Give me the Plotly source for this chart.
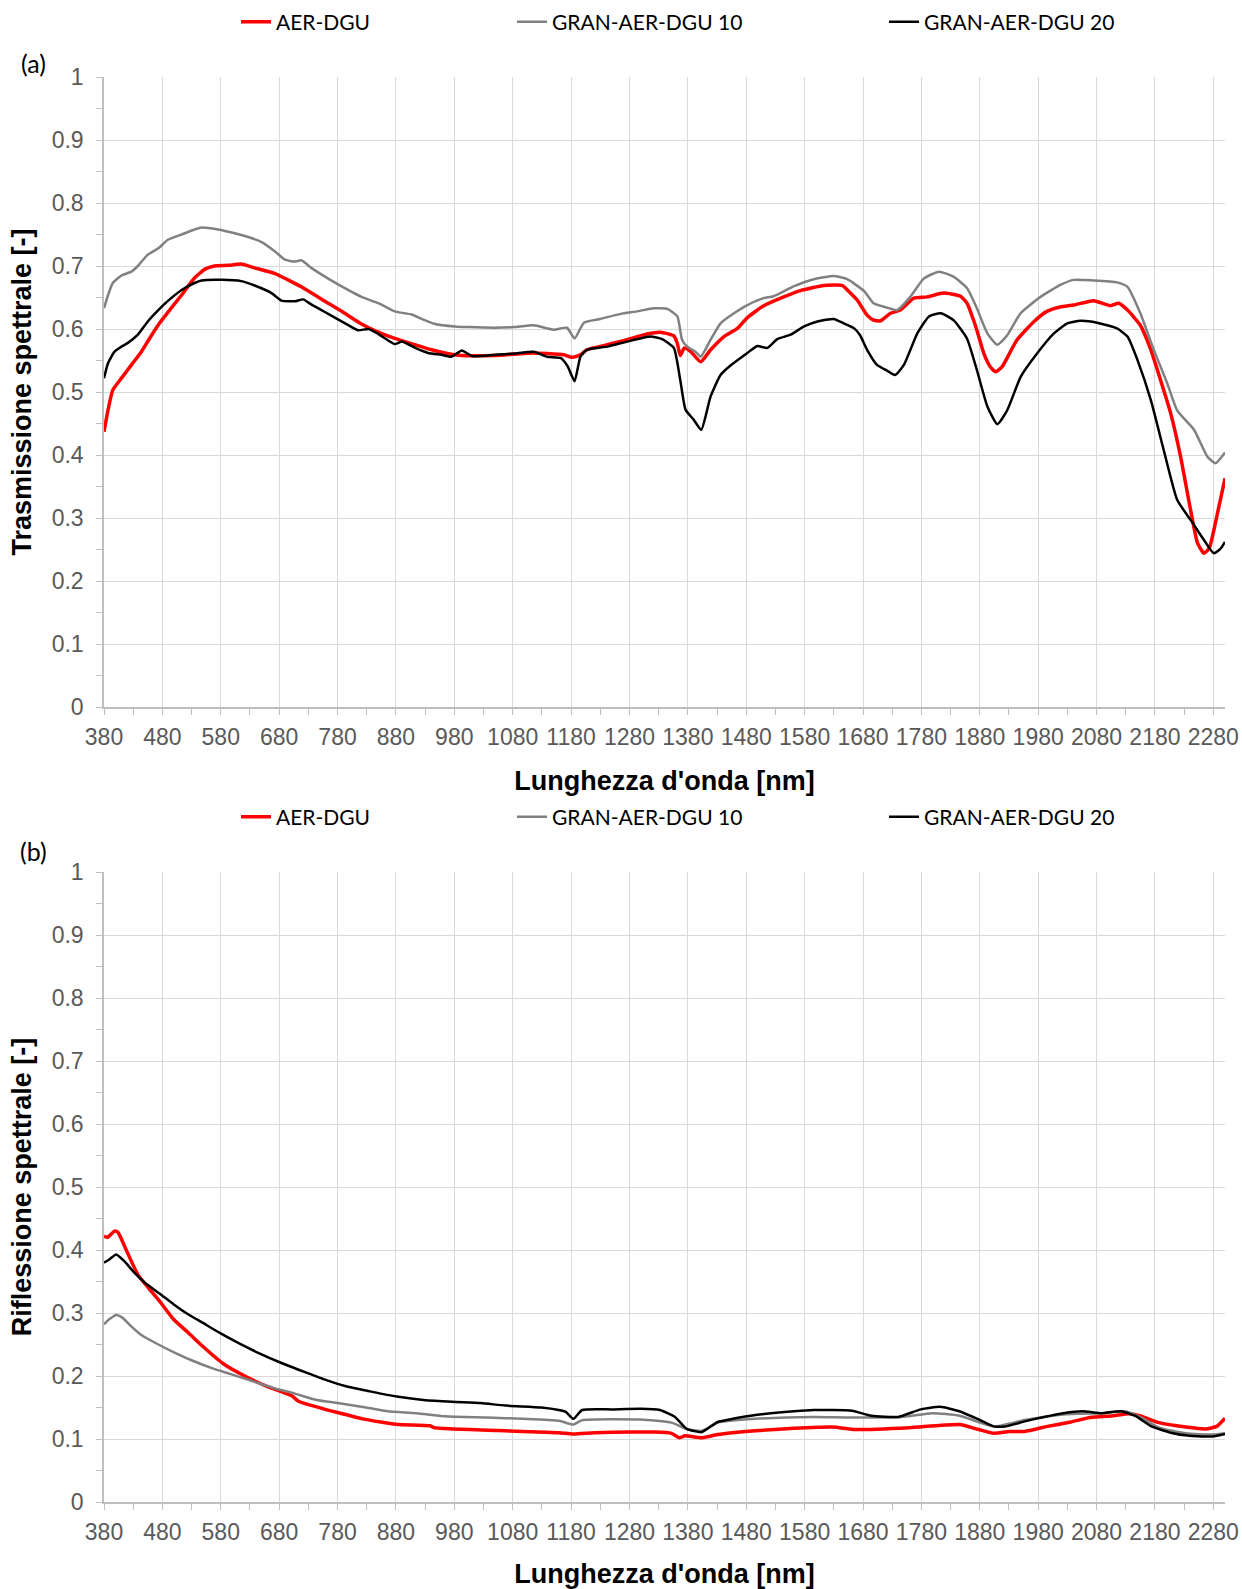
import plotly.graph_objects as go
from plotly.subplots import make_subplots

# ---------------- Panel (a): Trasmissione spettrale ----------------
wl_t_aer = [380, 387, 395, 410, 427, 444, 458, 475, 495, 513, 535, 553, 569, 593, 615, 638, 673, 695, 718, 753,
            787, 821, 855, 878, 913, 941, 964, 993, 1050, 1082, 1116, 1139, 1167, 1182, 1196, 1207, 1242, 1276,
            1310, 1333, 1356, 1362, 1367, 1374, 1385, 1402, 1419, 1442, 1465, 1482, 1510, 1539, 1573, 1613, 1645,
            1653, 1670, 1687, 1698, 1710, 1727, 1744, 1767, 1790, 1818, 1847, 1858, 1873, 1887, 1898, 1907, 1918,
            1944, 1973, 1995, 2018, 2041, 2075, 2104, 2118, 2133, 2155, 2173, 2195, 2207, 2224, 2241, 2253, 2264,
            2273, 2287, 2300]
t_aer = [0.437, 0.472, 0.503, 0.522, 0.543, 0.564, 0.585, 0.609, 0.633, 0.654, 0.681, 0.695, 0.700, 0.701, 0.703,
         0.697, 0.688, 0.678, 0.667, 0.647, 0.628, 0.608, 0.593, 0.585, 0.575, 0.567, 0.562, 0.558, 0.558, 0.560,
         0.562, 0.561, 0.559, 0.555, 0.559, 0.567, 0.575, 0.583, 0.592, 0.595, 0.589, 0.577, 0.558, 0.570, 0.564,
         0.548, 0.567, 0.588, 0.601, 0.618, 0.637, 0.649, 0.661, 0.669, 0.669, 0.662, 0.646, 0.622, 0.614, 0.613,
         0.625, 0.630, 0.649, 0.651, 0.657, 0.652, 0.641, 0.604, 0.561, 0.540, 0.532, 0.540, 0.583, 0.612, 0.628,
         0.635, 0.638, 0.645, 0.637, 0.641, 0.630, 0.606, 0.567, 0.503, 0.466, 0.397, 0.313, 0.260, 0.244, 0.252,
         0.307, 0.363]

wl_t_g10 = [380, 387, 395, 410, 427, 438, 455, 473, 490, 513, 547, 575, 604, 627, 650, 673, 690, 707, 718, 735,
            764, 798, 821, 850, 878, 907, 924, 947, 981, 1004, 1050, 1082, 1116, 1150, 1173, 1186, 1202, 1230, 1265,
            1293, 1322, 1345, 1362, 1370, 1379, 1393, 1402, 1419, 1436, 1459, 1482, 1510, 1527, 1562, 1596, 1630,
            1653, 1682, 1698, 1721, 1738, 1761, 1784, 1810, 1835, 1858, 1875, 1893, 1910, 1927, 1950, 1984, 2018,
            2041, 2075, 2115, 2133, 2155, 2178, 2201, 2218, 2247, 2270, 2284, 2300]
t_g10 = [0.633, 0.654, 0.673, 0.685, 0.691, 0.700, 0.718, 0.728, 0.742, 0.750, 0.761, 0.758, 0.752, 0.746, 0.738,
         0.723, 0.710, 0.707, 0.709, 0.697, 0.680, 0.662, 0.651, 0.641, 0.628, 0.623, 0.616, 0.608, 0.604, 0.603,
         0.602, 0.603, 0.606, 0.599, 0.602, 0.585, 0.610, 0.616, 0.624, 0.628, 0.633, 0.632, 0.620, 0.583, 0.572,
         0.564, 0.556, 0.583, 0.609, 0.625, 0.638, 0.649, 0.652, 0.668, 0.679, 0.684, 0.679, 0.660, 0.641, 0.634,
         0.630, 0.651, 0.680, 0.691, 0.683, 0.665, 0.633, 0.593, 0.575, 0.590, 0.625, 0.651, 0.670, 0.678, 0.677,
         0.674, 0.667, 0.625, 0.567, 0.514, 0.471, 0.440, 0.397, 0.387, 0.404]

wl_t_g20 = [380, 387, 398, 410, 421, 438, 455, 473, 490, 513, 535, 547, 581, 615, 638, 667, 684, 707, 721, 735,
            764, 793, 815, 833, 850, 878, 890, 913, 935, 958, 975, 993, 1010, 1050, 1082, 1116, 1139, 1162, 1174,
            1186, 1196, 1207, 1242, 1276, 1316, 1336, 1356, 1367, 1376, 1390, 1403, 1419, 1436, 1453, 1482, 1499,
            1516, 1533, 1556, 1579, 1602, 1630, 1647, 1665, 1675, 1687, 1704, 1721, 1735, 1750, 1773, 1793, 1813,
            1835, 1858, 1875, 1893, 1910, 1927, 1950, 1978, 2007, 2030, 2053, 2081, 2115, 2133, 2150, 2173, 2195,
            2218, 2241, 2264, 2281, 2293, 2300]
t_g20 = [0.522, 0.546, 0.564, 0.572, 0.578, 0.591, 0.612, 0.630, 0.645, 0.662, 0.673, 0.677, 0.678, 0.676, 0.669,
         0.657, 0.645, 0.644, 0.647, 0.639, 0.624, 0.609, 0.598, 0.600, 0.592, 0.576, 0.580, 0.570, 0.562, 0.559,
         0.556, 0.566, 0.557, 0.559, 0.561, 0.564, 0.556, 0.554, 0.541, 0.517, 0.556, 0.567, 0.572, 0.580, 0.588,
         0.584, 0.570, 0.519, 0.472, 0.456, 0.440, 0.493, 0.527, 0.542, 0.562, 0.573, 0.570, 0.584, 0.591, 0.604,
         0.612, 0.616, 0.609, 0.601, 0.590, 0.567, 0.543, 0.534, 0.527, 0.543, 0.593, 0.620, 0.625, 0.614, 0.585,
         0.535, 0.477, 0.449, 0.471, 0.524, 0.561, 0.593, 0.609, 0.613, 0.610, 0.601, 0.588, 0.551, 0.487, 0.408,
         0.329, 0.297, 0.265, 0.244, 0.252, 0.262]

# ---------------- Panel (b): Riflessione spettrale ----------------
wl_r_aer = [380, 386, 398, 404, 420, 438, 456, 475, 499, 524, 548, 585, 621, 658, 701, 713, 744, 780, 823, 854,
            884, 939, 945, 976, 1037, 1098, 1159, 1184, 1220, 1282, 1323, 1352, 1365, 1375, 1404, 1431, 1496,
            1562, 1628, 1667, 1760, 1845, 1878, 1904, 1930, 1957, 1996, 2036, 2069, 2109, 2135, 2154, 2187,
            2233, 2266, 2286, 2300]
r_aer = [0.422, 0.420, 0.430, 0.428, 0.396, 0.361, 0.340, 0.319, 0.290, 0.269, 0.248, 0.219, 0.200, 0.184, 0.169,
         0.160, 0.151, 0.142, 0.132, 0.127, 0.123, 0.121, 0.118, 0.116, 0.114, 0.112, 0.110, 0.108, 0.110, 0.111,
         0.111, 0.109, 0.102, 0.105, 0.102, 0.107, 0.113, 0.117, 0.119, 0.115, 0.118, 0.123, 0.115, 0.109, 0.112,
         0.112, 0.120, 0.127, 0.134, 0.137, 0.140, 0.137, 0.126, 0.119, 0.116, 0.120, 0.133]

wl_r_g10 = [380, 389, 401, 411, 423, 444, 469, 499, 530, 566, 597, 634, 670, 707, 744, 780, 829, 866, 915, 964,
            1037, 1098, 1159, 1184, 1199, 1299, 1352, 1378, 1404, 1431, 1496, 1595, 1661, 1746, 1799, 1845, 1904,
            1957, 2023, 2089, 2128, 2154, 2187, 2233, 2279, 2300]
r_g10 = [0.282, 0.290, 0.297, 0.293, 0.282, 0.265, 0.252, 0.238, 0.225, 0.212, 0.203, 0.192, 0.181, 0.172, 0.162,
         0.157, 0.150, 0.144, 0.141, 0.136, 0.134, 0.132, 0.129, 0.123, 0.130, 0.131, 0.126, 0.116, 0.113, 0.126,
         0.132, 0.135, 0.134, 0.135, 0.141, 0.137, 0.120, 0.130, 0.139, 0.141, 0.144, 0.135, 0.118, 0.109, 0.107,
         0.109]

wl_r_g20 = [380, 389, 401, 414, 432, 450, 475, 499, 524, 548, 579, 609, 646, 683, 719, 756, 793, 829, 854, 884,
            927, 976, 1025, 1068, 1129, 1159, 1171, 1184, 1199, 1251, 1299, 1332, 1358, 1378, 1404, 1431, 1457,
            1496, 1562, 1595, 1661, 1694, 1740, 1779, 1812, 1845, 1878, 1904, 1924, 1957, 1990, 2023, 2056, 2089,
            2122, 2148, 2174, 2207, 2240, 2279, 2300]
r_g20 = [0.380, 0.385, 0.393, 0.383, 0.364, 0.348, 0.331, 0.314, 0.298, 0.285, 0.268, 0.253, 0.236, 0.221, 0.208,
         0.195, 0.184, 0.177, 0.172, 0.167, 0.162, 0.159, 0.157, 0.153, 0.150, 0.146, 0.143, 0.132, 0.146, 0.147,
         0.148, 0.146, 0.135, 0.116, 0.111, 0.127, 0.132, 0.138, 0.144, 0.146, 0.145, 0.137, 0.135, 0.147, 0.151,
         0.144, 0.131, 0.120, 0.120, 0.128, 0.135, 0.141, 0.144, 0.141, 0.144, 0.136, 0.120, 0.110, 0.105, 0.104,
         0.108]

names = ["AER-DGU", "GRAN-AER-DGU 10", "GRAN-AER-DGU 20"]
colors = ["#FF0000", "#808080", "#000000"]
widths = [3.5, 2.5, 2.5]

# pixel geometry helpers (figure 1242 x 1589)
W, H = 1242, 1589
ML, MR, MT, MB = 104, 17, 77, 87
PW, PH = W - ML - MR, H - MT - MB
def px_x(p):
    return (p - ML) / PW
def px_y(p):
    return (H - MB - p) / PH

dom_a = [px_y(707), 1.0]
dom_b = [0.0, px_y(872)]

fig = make_subplots(rows=2, cols=1)

series_a = [(wl_t_aer, t_aer), (wl_t_g10, t_g10), (wl_t_g20, t_g20)]
series_b = [(wl_r_aer, r_aer), (wl_r_g10, r_g10), (wl_r_g20, r_g20)]

leg_px = [236, 512, 884]
for i, (xs, ys) in enumerate(series_a):
    fig.add_trace(go.Scatter(x=xs, y=ys, mode="lines", name=names[i],
                             line=dict(color=colors[i], width=widths[i], shape="spline", smoothing=0.5),
                             legend="legend" if i == 0 else f"legend{i+1}"), row=1, col=1)
for i, (xs, ys) in enumerate(series_b):
    fig.add_trace(go.Scatter(x=xs, y=ys, mode="lines", name=names[i],
                             line=dict(color=colors[i], width=widths[i], shape="spline", smoothing=0.5),
                             legend=f"legend{i+4}"), row=2, col=1)

tick_font = dict(family="Liberation Sans, Arial", size=23, color="#595959")
title_font = dict(family="Liberation Sans, Arial", size=27, color="#000000")
leg_font = dict(family="Lato, Calibri, sans-serif", size=21, color="#000000")

axis_common_x = dict(range=[380, 2300], tick0=380, dtick=100, showgrid=True, gridcolor="#d9d9d9", gridwidth=1.3,
                     showline=True, linecolor="#bfbfbf", linewidth=1.5, ticks="outside", ticklen=6,
                     tickcolor="#bfbfbf", tickfont=tick_font, zeroline=False, ticklabeloverflow="allow",
                     ticklabelstandoff=3,
                     minor=dict(tick0=380, dtick=50, ticks="outside", ticklen=6, tickcolor="#bfbfbf", showgrid=False),
                     title=dict(text="<b>Lunghezza d'onda [nm]</b>", font=title_font, standoff=22))
axis_common_y = dict(range=[0, 1], tick0=0, dtick=0.1, showgrid=True, gridcolor="#d9d9d9", gridwidth=1.3,
                     showline=True, linecolor="#bfbfbf", linewidth=1.5, ticks="outside", ticklen=6,
                     tickcolor="#bfbfbf", tickfont=tick_font, zeroline=False, ticklabelstandoff=8,
                     minor=dict(tick0=0, dtick=0.05, ticks="outside", ticklen=6, tickcolor="#bfbfbf", showgrid=False))

fig.update_xaxes(**axis_common_x)
fig.update_yaxes(**axis_common_y)
fig.update_layout(
    xaxis=dict(domain=[0, 1]), xaxis2=dict(domain=[0, 1]),
    yaxis=dict(domain=dom_a, title=dict(text="<b>Trasmissione spettrale [-]</b>", font=title_font, standoff=12)),
    yaxis2=dict(domain=dom_b, title=dict(text="<b>Riflessione spettrale [-]</b>", font=title_font, standoff=12)),
)

layout_legends = {}
for k in range(6):
    key = "legend" if k == 0 else f"legend{k+1}"
    ypix = 22 if k < 3 else 817
    layout_legends[key] = dict(x=px_x(leg_px[k % 3]), xanchor="left", y=px_y(ypix), yanchor="middle",
                               orientation="h", font=leg_font, bgcolor="rgba(0,0,0,0)", borderwidth=0,
                               itemwidth=30)
fig.update_layout(**layout_legends)

fig.update_layout(
    width=W, height=H, paper_bgcolor="white", plot_bgcolor="white",
    margin=dict(l=ML, r=MR, t=MT, b=MB, autoexpand=False),
    showlegend=True,
    annotations=[
        dict(text="(a)", x=px_x(33), y=px_y(63), xref="paper", yref="paper", showarrow=False,
             xanchor="center", yanchor="middle",
             font=dict(family="Lato, Calibri, sans-serif", size=25, color="#000000")),
        dict(text="(b)", x=px_x(33), y=px_y(851), xref="paper", yref="paper", showarrow=False,
             xanchor="center", yanchor="middle",
             font=dict(family="Lato, Calibri, sans-serif", size=25, color="#000000")),
    ],
)

fig.write_html("out.html", config={"displayModeBar": False},
               post_script="document.body.style.margin='0';")
